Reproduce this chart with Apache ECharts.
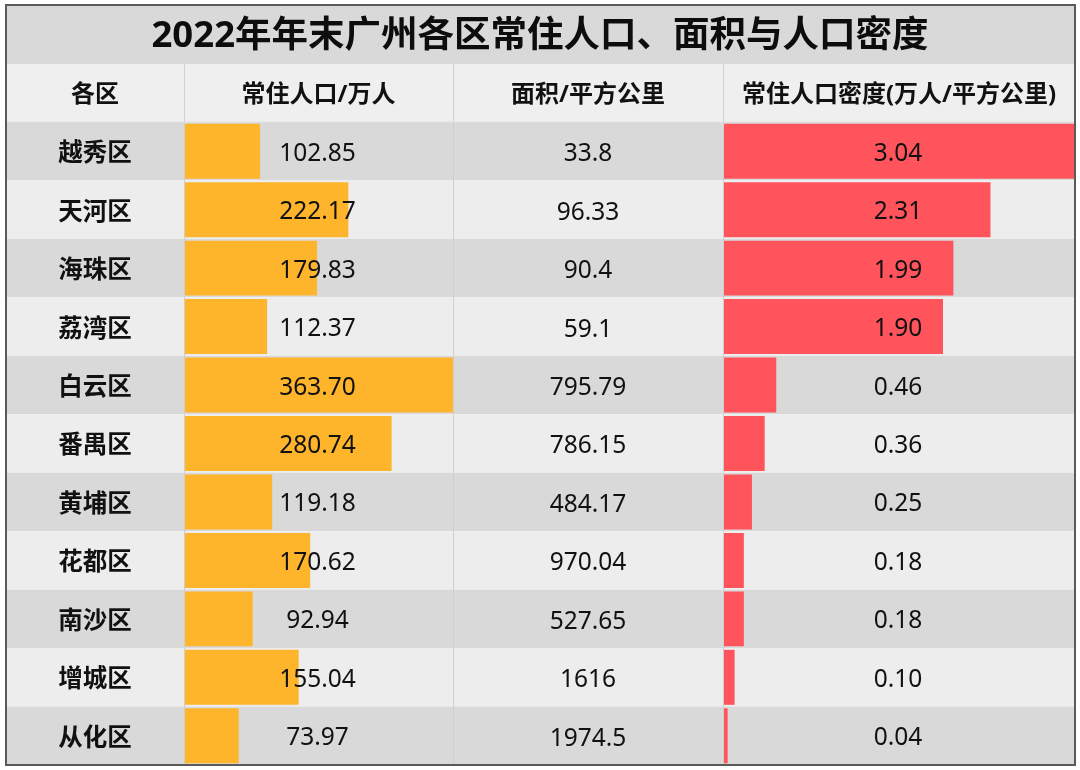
<!DOCTYPE html>
<html><head><meta charset="utf-8">
<script src="https://cdn.jsdelivr.net/npm/echarts@6/dist/echarts.min.js"></script>
<style>html,body{margin:0;padding:0;background:#fff}#c{width:1080px;height:770px}</style>
</head><body><div id="c"></div>
<script>
const titleText = '2022年年末广州各区常住人口、面积与人口密度';
const headers = ['各区', '常住人口/万人', '面积/平方公里', '常住人口密度(万人/平方公里)'];
const districts = ['越秀区', '天河区', '海珠区', '荔湾区', '白云区', '番禺区', '黄埔区', '花都区', '南沙区', '增城区', '从化区'];
const population = [102.85, 222.17, 179.83, 112.37, 363.70, 280.74, 119.18, 170.62, 92.94, 155.04, 73.97];
const area = [33.8, 96.33, 90.4, 59.1, 795.79, 786.15, 484.17, 970.04, 527.65, 1616, 1974.5];
const density = [3.04, 2.31, 1.99, 1.90, 0.46, 0.36, 0.25, 0.18, 0.18, 0.10, 0.04];

const popLabels = population.map(v => v.toFixed(2));
const areaLabels = area.map(v => String(v));
const denLabels = density.map(v => v.toFixed(2));

// layout
const X = [6, 184, 453, 723, 1075];
const TITLE_TOP = 5, HEAD_TOP = 64, BODY_TOP = 122, BOTTOM = 765;
const FONT = '"Noto Sans","Noto Sans CJK SC",sans-serif';
const ROW_COLORS = ['#d9d9d9', '#ededed'];
const colW = i => X[i + 1] - X[i];

const grids = [0, 1, 2, 3].map(i => ({
  left: X[i], width: colW(i), top: BODY_TOP, height: BOTTOM - BODY_TOP, containLabel: false
}));

const maxes = [1, Math.max(...population), 1, Math.max(...density)];
const xAxes = [0, 1, 2, 3].map(i => ({
  type: 'value', gridIndex: i, min: 0, max: maxes[i], show: false
}));

const labelFormatters = [
  (v) => v,
  () => '',
  (v, idx) => areaLabels[idx],
  () => ''
];
const yAxes = [0, 1, 2, 3].map(i => ({
  type: 'category', gridIndex: i, data: districts, inverse: true,
  axisLine: { show: false }, axisTick: { show: false },
  splitLine: { show: false },
  splitArea: { show: true, areaStyle: { color: ROW_COLORS } },
  axisLabel: {
    show: i === 0 || i === 2,
    inside: true,
    margin: colW(i) / 2,
    align: 'center',
    verticalAlign: 'top',
    lineHeight: 6,
    formatter: labelFormatters[i],
    fontFamily: FONT,
    fontSize: 24.5,
    fontWeight: i === 0 ? 'bold' : 'normal',
    color: '#111'
  },
  z: 0
}));

function barSeries(gi, data, color, labels) {
  return {
    type: 'bar', xAxisIndex: gi, yAxisIndex: gi, data: data,
    barCategoryGap: '6%',
    itemStyle: { color: color },
    label: {
      show: true,
      position: [colW(gi) / 2 - 1, '50%'],
      offset: [0, 2.5],
      align: 'center', verticalAlign: 'middle',
      formatter: p => labels[p.dataIndex],
      fontFamily: FONT, fontSize: 24.5, color: '#111'
    },
    emphasis: { disabled: true },
    z: 2
  };
}

const graphics = [
  { type: 'rect', shape: { x: X[0], y: TITLE_TOP, width: X[4] - X[0], height: HEAD_TOP - TITLE_TOP }, style: { fill: '#d9d9d9' }, z: -10 },
  { type: 'rect', shape: { x: X[0], y: HEAD_TOP, width: X[4] - X[0], height: BODY_TOP - HEAD_TOP }, style: { fill: '#efefef' }, z: -10 }
];
headers.forEach((h, i) => {
  graphics.push({
    type: 'text', x: (X[i] + X[i + 1]) / 2, y: (HEAD_TOP + BODY_TOP) / 2 + 2, z: 50,
    style: { text: h, textAlign: 'center', textVerticalAlign: 'middle', font: 'bold 24px ' + FONT, fill: '#111' }
  });
});
[1, 2, 3].forEach(i => {
  graphics.push({
    type: 'line', shape: { x1: X[i] + 0.5, y1: HEAD_TOP, x2: X[i] + 0.5, y2: BOTTOM }, style: { stroke: '#cfcfcf', lineWidth: 1 }, z: 40
  });
});
graphics.push({
  type: 'line', shape: { x1: X[0], y1: BODY_TOP, x2: X[4], y2: BODY_TOP }, style: { stroke: '#e2e2e2', lineWidth: 1 }, z: 40
});
graphics.push({
  type: 'rect', shape: { x: X[0], y: TITLE_TOP, width: X[4] - X[0], height: BOTTOM - TITLE_TOP },
  style: { fill: 'none', stroke: '#5a5a5a', lineWidth: 2 }, z: 100
});

const chart = echarts.init(document.getElementById('c'), null, { renderer: 'canvas' });
chart.setOption({
  animation: false,
  backgroundColor: '#ffffff',
  title: {
    text: titleText, left: 'center', top: TITLE_TOP + 8,
    textStyle: { fontFamily: FONT, fontSize: 36.5, fontWeight: 'bold', color: '#0d0d0d' }
  },
  grid: grids,
  xAxis: xAxes,
  yAxis: yAxes,
  series: [
    barSeries(1, population, '#FFB52B', popLabels),
    barSeries(3, density, '#FF545C', denLabels)
  ],
  graphic: graphics
});
</script>
</body></html>
